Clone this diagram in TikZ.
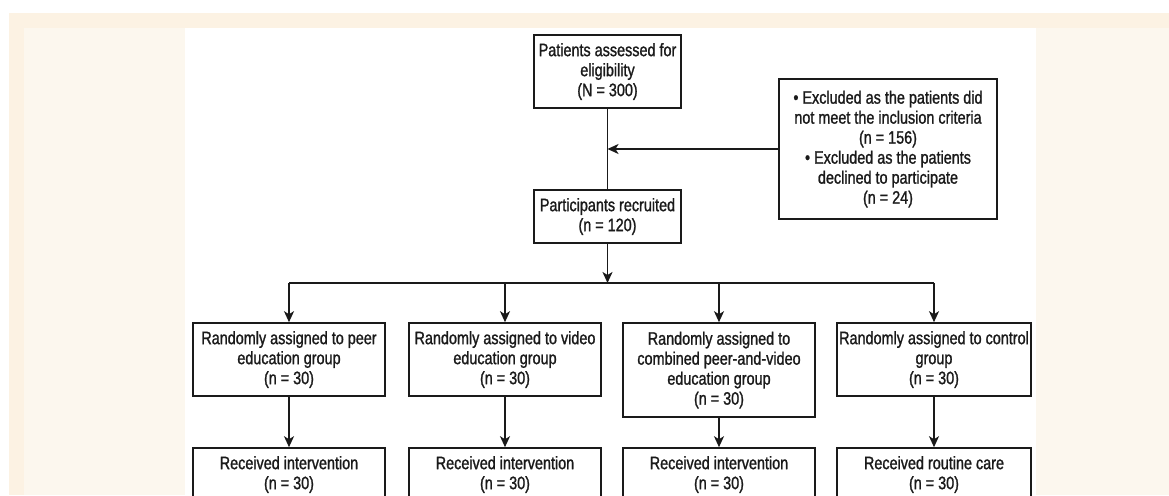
\documentclass[tikz,border=0pt]{standalone}
\usepackage{fontspec}
\setmainfont[FakeStretch=0.8,FakeBold=1.2]{Liberation Sans}
\usetikzlibrary{arrows.meta}
\definecolor{bgdark}{HTML}{FCF2E3}
\definecolor{bglight}{HTML}{FCF7EE}
\definecolor{ink}{HTML}{1A1A1A}
\begin{document}
\begin{tikzpicture}[x=1pt,y=-1pt,
  box/.style={draw=ink,line width=1.6pt,align=center,inner sep=0pt,
    font=\fontsize{18}{20}\selectfont,text=ink},
  arr/.style={draw=ink,line width=1.6pt,-{Stealth[length=11pt,width=10pt,inset=3pt]}},
  ln/.style={draw=ink,line width=1.6pt}]
\clip (0,0) rectangle (1169,495);
\fill[white] (0,0) rectangle (1169,495);
\fill[bgdark] (9,13) rectangle (1169,495);
\fill[bglight] (24,28) rectangle (1169,495);
\fill[white] (185,28) rectangle (1036,495);

\node[box,minimum width=147pt,minimum height=73pt] (top) at (607.5,71.5)
  {Patients assessed for\\eligibility\\(N = 300)};
\node[box,minimum width=218pt,minimum height=140pt] (excl) at (888,149)
  {• Excluded as the patients did\\not meet the inclusion criteria\\(n = 156)\\• Excluded as the patients\\declined to participate\\(n = 24)};
\node[box,minimum width=147pt,minimum height=53pt] (rec) at (607.5,216.5)
  {Participants recruited\\(n = 120)};

\node[box,minimum width=192pt,minimum height=73pt] (b1) at (289,359.5)
  {Randomly assigned to peer\\education group\\(n = 30)};
\node[box,minimum width=192pt,minimum height=73pt] (b2) at (505,359.5)
  {Randomly assigned to video\\education group\\(n = 30)};
\node[box,minimum width=192pt,minimum height=94pt] (b3) at (719,370)
  {Randomly assigned to\\combined peer-and-video\\education group\\(n = 30)};
\node[box,minimum width=194pt,minimum height=73pt] (b4) at (934,359.5)
  {Randomly assigned to control\\group\\(n = 30)};

\node[box,minimum width=192pt,minimum height=53pt] (r1) at (289,474.5)
  {Received intervention\\(n = 30)};
\node[box,minimum width=192pt,minimum height=53pt] (r2) at (505,474.5)
  {Received intervention\\(n = 30)};
\node[box,minimum width=192pt,minimum height=53pt] (r3) at (719,474.5)
  {Received intervention\\(n = 30)};
\node[box,minimum width=194pt,minimum height=53pt] (r4) at (934,474.5)
  {Received routine care\\(n = 30)};

\coordinate (bus) at (607.5,283);
\draw[ln] (top) -- (rec);
\draw[arr] (excl.west) -- (excl.west -| top);
\draw[arr] (rec) -- (bus);
\draw[ln] (b1 |- bus) -- (b4 |- bus);
\foreach \i in {1,2,3,4}{
  \draw[arr] (b\i |- bus) -- (b\i);
  \draw[arr] (b\i) -- (r\i);
}
\end{tikzpicture}
\end{document}
